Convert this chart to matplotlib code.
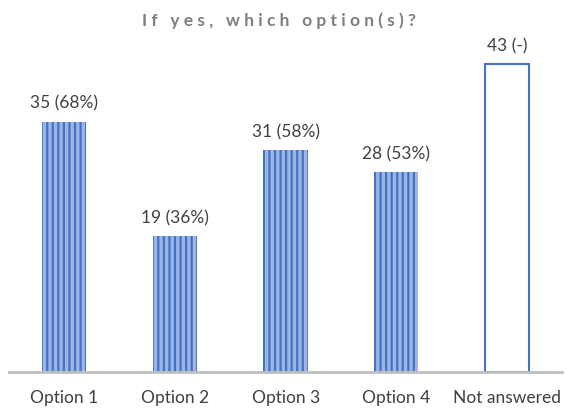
import matplotlib
matplotlib.use("Agg")
import matplotlib.pyplot as plt

categories = ["Option 1", "Option 2", "Option 3", "Option 4", "Not answered"]
values = [35, 19, 31, 28, 43]
labels = ["35 (68%)", "19 (36%)", "31 (58%)", "28 (53%)", "43 (-)"]
title = "If yes, which option(s)?"

plt.rcParams['font.family'] = ['Lato', 'DejaVu Sans']
plt.rcParams['hatch.linewidth'] = 1.6

fig = plt.figure(figsize=(5.7, 4.08), dpi=100)
ax = fig.add_axes([0.0158, 0.088, 0.9706, 0.814])

x = list(range(len(categories)))
for i, v in enumerate(values):
    if i < 4:
        ax.bar(i, v, width=0.4, color="#9DB5E4", edgecolor="#4472C4",
               hatch="|||", linewidth=0)
    else:
        ax.bar(i, v, width=0.4, facecolor="white", edgecolor="#4472C4",
               linewidth=1.5)
    ax.annotate(labels[i], (i, v), xytext=(0, 7), textcoords="offset points",
                ha="center", va="bottom", fontsize=12.5, color="#404040")

ax.set_xlim(-0.5, 4.5)
ax.set_ylim(0, 46.4)
ax.set_xticks(x)
ax.set_xticklabels(categories, fontsize=12.5, color="#404040")
ax.tick_params(axis="x", length=0, pad=13)
ax.set_yticks([])
for s in ["top", "right", "left"]:
    ax.spines[s].set_visible(False)
ax.spines["bottom"].set_color("#BFBFBF")
ax.spines["bottom"].set_linewidth(2)

spaced = "   ".join(" ".join(w) for w in title.split(" "))
fig.text(0.49, 0.948, spaced, ha="center", va="center", fontsize=12.5,
         fontweight="bold", color="#7F7F7F")

fig.savefig("out.png", dpi=100)
